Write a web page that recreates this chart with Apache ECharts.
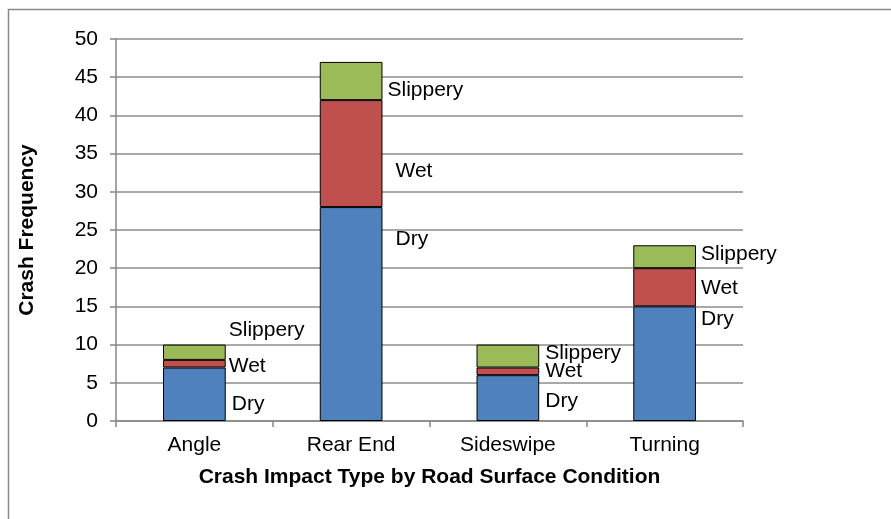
<!DOCTYPE html>
<html>
<head>
<meta charset="utf-8">
<script src="https://cdn.jsdelivr.net/npm/echarts@6/dist/echarts.min.js"></script>
<style>
  html, body { margin: 0; padding: 0; background: #fff; }
  #chart { width: 891px; height: 519px; }
</style>
</head>
<body>
<div id="chart"></div>
<script>
// Crash counts by impact type, stacked by road surface condition
const categories = ['Angle', 'Rear End', 'Sideswipe', 'Turning'];
const dryValues = [7, 28, 6, 15];
const wetValues = [1, 14, 1, 5];
const slipperyValues = [2, 5, 3, 3];
const yTicks = { min: 0, max: 50, interval: 5 };

// Label nudges [dx, dy] so the condition names sit clear of each other
const dryLabelOffsets = [[1, 10], [8, -75], [1, 3], [0, -44]];
const wetLabelOffsets = [[-2, 3], [8, 18], [1, 0], [0, 1]];
const slipperyLabelOffsets = [[-2, -22], [0, 9], [1, -3], [0, -3]];

const FONT = '"Liberation Sans", Arial, Helvetica, sans-serif';
const TEXT_SIZE = 21;

function makeSeries(name, values, offsets, color) {
  return {
    name: name,
    type: 'bar',
    stack: 'total',
    barWidth: '40%',
    itemStyle: { color: color, borderColor: '#000', borderWidth: 1 },
    data: values.map((v, i) => ({
      value: v,
      label: { offset: offsets[i] }
    })),
    label: {
      show: true,
      position: 'right',
      distance: 5,
      formatter: name,
      color: '#000',
      fontFamily: FONT,
      fontSize: TEXT_SIZE
    }
  };
}

const chart = echarts.init(document.getElementById('chart'), null, { renderer: 'canvas' });
chart.setOption({
  animation: false,
  backgroundColor: '#fff',
  graphic: [{
    type: 'rect',
    shape: { x: 8.5, y: 9.5, width: 1000, height: 1000 },
    style: { fill: 'none', stroke: '#8a8a8a', lineWidth: 1.5 },
    silent: true,
    z: -10
  }],
  grid: { left: 116, right: 148, top: 39, bottom: 98, containLabel: false },
  xAxis: {
    type: 'category',
    data: categories,
    name: 'Crash Impact Type by Road Surface Condition',
    nameLocation: 'middle',
    nameGap: 46,
    nameTextStyle: { fontFamily: FONT, fontSize: 21, fontWeight: 'bold', color: '#000' },
    axisLine: { lineStyle: { color: '#868686', width: 1.5 } },
    axisTick: { show: true, length: 6, lineStyle: { color: '#868686', width: 1.5 } },
    axisLabel: { margin: 14, fontFamily: FONT, fontSize: TEXT_SIZE, color: '#000' }
  },
  yAxis: {
    type: 'value',
    min: yTicks.min,
    max: yTicks.max,
    interval: yTicks.interval,
    name: 'Crash Frequency',
    nameLocation: 'middle',
    nameGap: 78,
    nameTextStyle: { fontFamily: FONT, fontSize: 21, fontWeight: 'bold', color: '#000' },
    axisLine: { show: true, lineStyle: { color: '#868686', width: 1.5 } },
    axisTick: { show: true, length: 6, lineStyle: { color: '#868686', width: 1.5 } },
    axisLabel: { margin: 18, fontFamily: FONT, fontSize: TEXT_SIZE, color: '#000' },
    splitLine: { lineStyle: { color: '#8c8c8c', width: 1.5 } }
  },
  series: [
    makeSeries('Dry', dryValues, dryLabelOffsets, '#4f81bd'),
    makeSeries('Wet', wetValues, wetLabelOffsets, '#c0504d'),
    makeSeries('Slippery', slipperyValues, slipperyLabelOffsets, '#9bbb59')
  ]
});
</script>
</body>
</html>
